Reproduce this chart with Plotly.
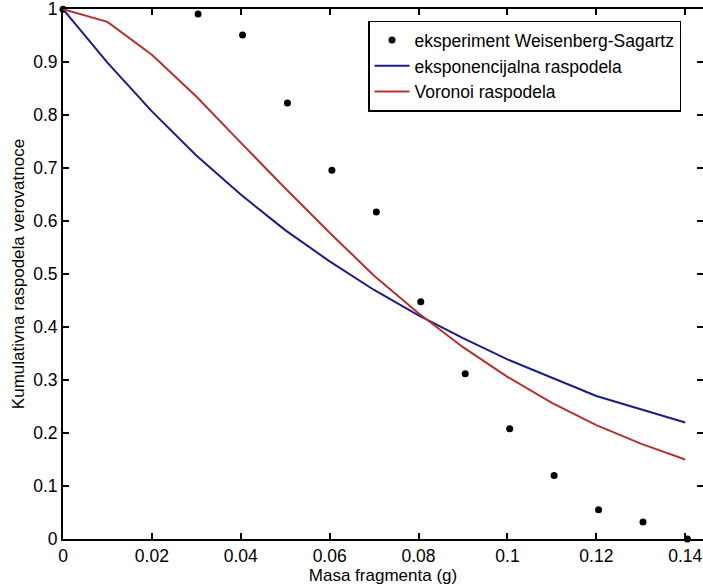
import plotly.graph_objects as go

# Experimental data (Weisenberg-Sagartz)
exp_x = [0.0, 0.0304, 0.0404, 0.0505, 0.0605, 0.0705, 0.0805, 0.0905, 0.1005, 0.1105, 0.1205, 0.1305, 0.1405]
exp_y = [1.0, 0.991, 0.951, 0.823, 0.696, 0.617, 0.448, 0.312, 0.208, 0.120, 0.055, 0.032, 0.0]

# Model curves
model_x = [0.0, 0.01, 0.02, 0.03, 0.04, 0.05, 0.06, 0.07, 0.08, 0.09, 0.10, 0.11, 0.12, 0.13, 0.14]
expo_y = [1.0, 0.899, 0.807, 0.724, 0.650, 0.583, 0.524, 0.470, 0.422, 0.379, 0.339, 0.305, 0.270, 0.245, 0.220]
voronoi_y = [1.0, 0.976, 0.914, 0.835, 0.748, 0.662, 0.578, 0.497, 0.426, 0.362, 0.306, 0.257, 0.215, 0.180, 0.150]

x_ticks = [0, 0.02, 0.04, 0.06, 0.08, 0.10, 0.12, 0.14]
x_labels = ["0", "0.02", "0.04", "0.06", "0.08", "0.1", "0.12", "0.14"]
y_ticks = [0, 0.1, 0.2, 0.3, 0.4, 0.5, 0.6, 0.7, 0.8, 0.9, 1.0]
y_labels = ["0", "0.1", "0.2", "0.3", "0.4", "0.5", "0.6", "0.7", "0.8", "0.9", "1"]

FONT = "Liberation Sans, Arial, sans-serif"

fig = go.Figure()
fig.add_trace(go.Scatter(x=exp_x, y=exp_y, mode="markers", name="eksperiment Weisenberg-Sagartz",
                         marker=dict(color="black", size=7), cliponaxis=False))
fig.add_trace(go.Scatter(x=model_x, y=expo_y, mode="lines", name="eksponencijalna raspodela",
                         line=dict(color="#1c1c86", width=2)))
fig.add_trace(go.Scatter(x=model_x, y=voronoi_y, mode="lines", name="Voronoi raspodela",
                         line=dict(color="#b3322f", width=2)))
# dummy trace to activate right-hand tick axis
fig.add_trace(go.Scatter(x=[None], y=[None], yaxis="y2", showlegend=False, hoverinfo="skip"))

fig.update_layout(
    width=703, height=588,
    margin=dict(l=63, r=0, t=9, b=49),
    paper_bgcolor="white", plot_bgcolor="white",
    font=dict(family=FONT, size=17, color="black"),
    showlegend=True,
    legend=dict(x=(368 - 63) / 640, y=0.978, xanchor="left", yanchor="top",
                bgcolor="white", bordercolor="black", borderwidth=1.5,
                font=dict(size=17.5), itemwidth=35, tracegroupgap=0),
    xaxis=dict(range=[0, 0.1440], tickvals=x_ticks, ticktext=x_labels,
               ticks="inside", ticklen=6, tickwidth=2, tickcolor="black",
               showline=True, linecolor="black", linewidth=2, mirror="ticks",
               showgrid=False, zeroline=False, tickfont=dict(size=17.5),
               title=dict(text="Masa fragmenta (g)", font=dict(size=17), standoff=0)),
    yaxis=dict(range=[0, 1.0003], tickvals=y_ticks, ticktext=y_labels,
               ticks="inside", ticklen=6, tickwidth=2, tickcolor="black",
               showline=True, linecolor="black", linewidth=2,
               showgrid=False, zeroline=False, ticklabeloverflow="allow",
               tickfont=dict(size=17.5), ticklabelstandoff=0,
               title=dict(text="Kumulativna raspodela verovatnoce", font=dict(size=17), standoff=4)),
    yaxis2=dict(range=[0, 1.0003], tickvals=y_ticks, overlaying="y", side="right",
                ticks="inside", ticklen=6, tickwidth=2, tickcolor="black",
                showticklabels=False, showline=False, showgrid=False, zeroline=False),
)

fig.write_html("out.html")
